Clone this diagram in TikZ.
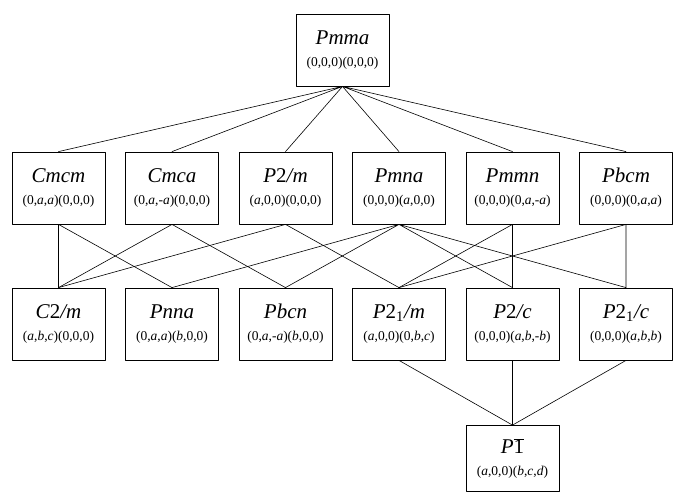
\documentclass[tikz,border=0pt]{standalone}
\usepackage{fontspec}
\setmainfont{Liberation Serif}
\newcommand{\grpname}[1]{{\fontsize{21}{22}\selectfont\itshape #1}}

\begin{document}
\begin{tikzpicture}[x=1pt, y=1pt, line cap=round, line join=round,
	grp/.style={draw, line width=0.8pt, minimum width=93pt, minimum height=72pt,
		inner sep=0pt, align=center, font=\fontsize{13.5}{22}\selectfont},
	link/.style={line width=0.6pt}]
	% Page frame (673 x 493), origin at top left
	\useasboundingbox (0,0) rectangle (673,-493);
	
	% Row heights
	\def\ya{-50} \def\yb{-188} \def\yc{-324} \def\yd{-458.5}
	
	% Parent group
	\node[grp] (pmma) at (342.5,\ya) {\grpname{Pmma}\\(0,0,0)(0,0,0)};
	
	% Second row
	\node[grp] (cmcm)  at (58.5,\yb)  {\grpname{Cmcm}\\(0,\textit{a},\textit{a})(0,0,0)};
	\node[grp] (cmca)  at (172,\yb)   {\grpname{Cmca}\\(0,\textit{a},-\textit{a})(0,0,0)};
	\node[grp] (ptwom) at (285.5,\yb) {\grpname{P\textup{2}/m}\\(\textit{a},0,0)(0,0,0)};
	\node[grp] (pmna)  at (399,\yb)   {\grpname{Pmna}\\(0,0,0)(\textit{a},0,0)};
	\node[grp] (pmmn)  at (512.5,\yb) {\grpname{Pmmn}\\(0,0,0)(0,\textit{a},-\textit{a})};
	\node[grp] (pbcm)  at (626,\yb)   {\grpname{Pbcm}\\(0,0,0)(0,\textit{a},\textit{a})};
	
	% Third row
	\node[grp] (ctwom)    at (58.5,\yc)  {\grpname{C\textup{2}/m}\\(\textit{a},\textit{b},\textit{c})(0,0,0)};
	\node[grp] (pnna)     at (172,\yc)   {\grpname{Pnna}\\(0,\textit{a},\textit{a})(\textit{b},0,0)};
	\node[grp] (pbcn)     at (285.5,\yc) {\grpname{Pbcn}\\(0,\textit{a},-\textit{a})(\textit{b},0,0)};
	\node[grp] (ptwoonem) at (399,\yc)   {\grpname{P\textup{2\textsubscript{1}}/m}\\(\textit{a},0,0)(0,\textit{b},\textit{c})};
	\node[grp] (ptwoc)    at (512.5,\yc) {\grpname{P\textup{2}/c}\\(0,0,0)(\textit{a},\textit{b},-\textit{b})};
	\node[grp] (ptwoonec) at (626,\yc)   {\grpname{P\textup{2\textsubscript{1}}/c}\\(0,0,0)(\textit{a},\textit{b},\textit{b})};
	
	% Bottom group
	\node[grp, minimum height=66pt] (pbarone) at (512.5,\yd) {\grpname{P$\overline{\mbox{\upshape 1}}$}\\(\textit{a},0,0)(\textit{b},\textit{c},\textit{d})};
	
	% Links from the parent
	\draw[link] (pmma.south) -- (cmcm.north)  (pmma.south) -- (cmca.north)
		(pmma.south) -- (ptwom.north) (pmma.south) -- (pmna.north)
		(pmma.south) -- (pmmn.north)  (pmma.south) -- (pbcm.north);
	
	% Links between second and third rows
	\draw[link] (cmcm.south) -- (ctwom.north) (cmcm.south) -- (pnna.north);
	\draw[link] (cmca.south) -- (ctwom.north) (cmca.south) -- (pbcn.north);
	\draw[link] (ptwom.south) -- (ctwom.north) (ptwom.south) -- (ptwoonem.north);
	\draw[link] (pmna.south) -- (pnna.north) (pmna.south) -- (pbcn.north)
		(pmna.south) -- (ptwoc.north) (pmna.south) -- (ptwoonec.north);
	\draw[link] (pmmn.south) -- (ptwoc.north) (pmmn.south) -- (ptwoonem.north);
	\draw[link] (pbcm.south) -- (ptwoonec.north) (pbcm.south) -- (ptwoonem.north);
	
	% Links to the bottom group
	\draw[link] (ptwoonem.south) -- (pbarone.north) (ptwoc.south) -- (pbarone.north)
		(ptwoonec.south) -- (pbarone.north);
\end{tikzpicture}
\end{document}
